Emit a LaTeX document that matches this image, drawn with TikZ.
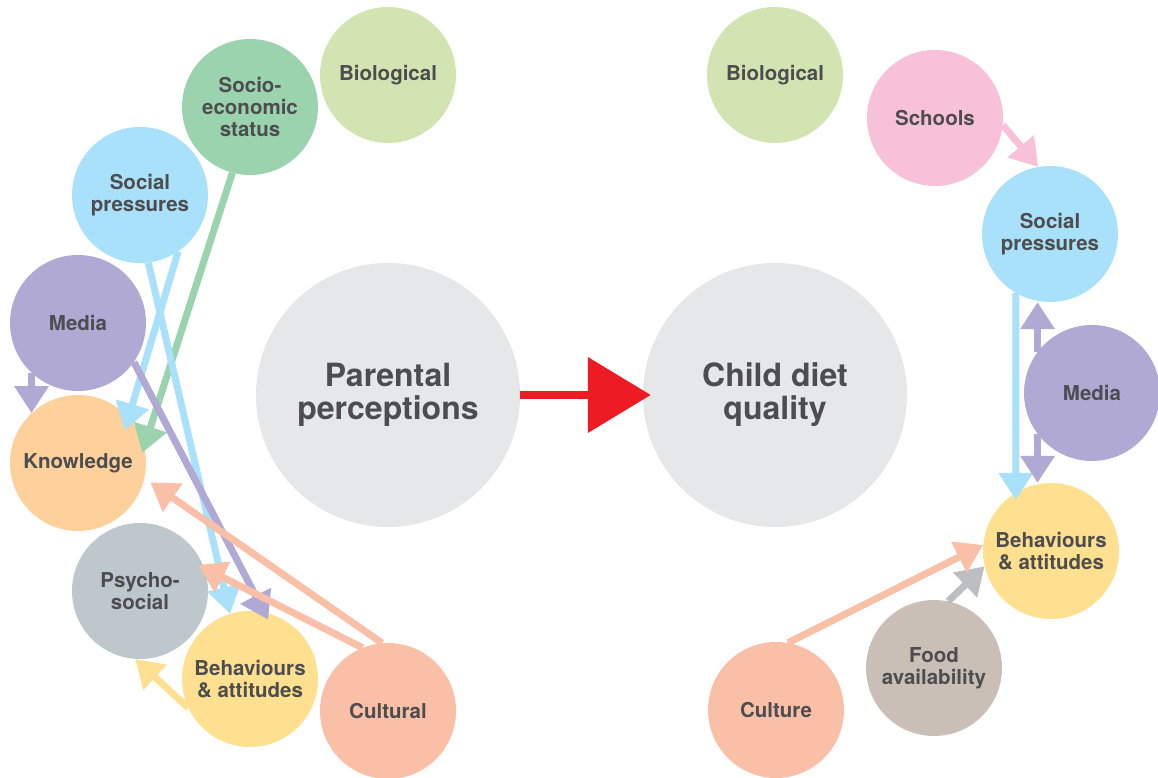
\documentclass[tikz,border=0pt]{standalone}
\usepackage{fontspec}
\setmainfont{TeX Gyre Heros}
\usepackage[HTML]{xcolor}
\usetikzlibrary{arrows.meta, calc}

\definecolor{txtC}{HTML}{4D4D4F}
\definecolor{bioC}{HTML}{D1E4B1}
\definecolor{sesC}{HTML}{9AD3AE}
\definecolor{socC}{HTML}{A9E0FA}
\definecolor{medC}{HTML}{AFA9D3}
\definecolor{knowC}{HTML}{FDD09C}
\definecolor{psyC}{HTML}{BEC7CC}
\definecolor{behC}{HTML}{FEE090}
\definecolor{culC}{HTML}{F9BFA7}
\definecolor{schC}{HTML}{F7C1D9}
\definecolor{foodC}{HTML}{C9BFB6}
\definecolor{hubC}{HTML}{E6E7E8}
\definecolor{redC}{HTML}{ED1C24}
\definecolor{greyA}{HTML}{BCBEC0}

\begin{document}
\begin{tikzpicture}[x=1pt,y=1pt,
  bubble/.style={circle,fill=#1,minimum size=136pt,inner sep=0pt,align=center,text=txtC,
    font=\fontsize{20.5}{22}\selectfont\bfseries},
  hub/.style={circle,fill=hubC,minimum size=264pt,inner sep=0pt,align=center,text=txtC,
    font=\fontsize{32}{33}\selectfont\bfseries},
  link/.style={draw=#1,line width=7pt,-{Triangle[length=27pt,width=33pt]}}]
\useasboundingbox (0,0) rectangle (1158,778);

% left: parental perceptions
\node[bubble=bioC] (lbio) at (388,703) {Biological};
\node[bubble=sesC] (lses) at (250,671) {Socio-\\economic\\status};
\node[bubble=socC] (lsoc) at (140,583) {Social\\pressures};
\node[bubble=medC] (lmed) at (78,455) {Media};
\node[bubble=knowC] (lknow) at (78,315) {Knowledge};
\node[bubble=psyC] (lpsy) at (140,187) {Psycho-\\social};
\node[bubble=behC] (lbeh) at (250,99) {Behaviours\\\& attitudes};
\node[bubble=culC] (lcul) at (388,67) {Cultural};
\node[hub] (parent) at (388,383) {Parental\\perceptions};

% right: child diet quality
\node[hub] (child) at (775,383) {Child diet\\quality};
\node[bubble=bioC] (rbio) at (775,703) {Biological};
\node[bubble=schC] (rsch) at (935,660) {Schools};
\node[bubble=socC] (rsoc) at (1050,544) {Social\\pressures};
\node[bubble=medC] (rmed) at (1092,385) {Media};
\node[bubble=behC] (rbeh) at (1051,227) {Behaviours\\\& attitudes};
\node[bubble=foodC] (rfood) at (934,110) {Food\\availability};
\node[bubble=culC] (rcul) at (776,68) {Culture};

\draw[link=medC] (lmed.227) -- (lknow.133);
\draw[link=socC] (lsoc.304) -- ($(lknow)+(35:57)$);
\draw[link=sesC] (lses.255) -- ($(lknow)+(9:65)$);
\draw[link=socC] (lsoc.277) -- (lbeh.107);
\draw[link=medC] (lmed.325) -- ($(lbeh)+(73:62)$);
\draw[link=culC] (lcul.95) -- ($(lknow)+(-15:75)$);
\draw[link=culC] (lcul.112) -- ($(lpsy)+(24:64)$);
\draw[link=behC] (lbeh.205) -- (lpsy.266);

\draw[draw=redC,line width=8pt,-{Triangle[length=63pt,width=74pt]}] (parent.east) -- ($(child.west)+(8,0)$);

\draw[link=schC] (rsch.354) -- (rsoc.100);
\draw[link=socC] (rsoc.240) -- ($(rbeh)+(124.6:62)$);
\draw[link=medC] (rmed.143) -- (rmed.143 |- rsoc.south);
\draw[link=medC] (rmed.217) -- (rmed.217 |- rbeh.north);
\draw[link=greyA] (rfood.78) -- (rbeh.193);
\draw[link=culC] (rcul.80) -- (rbeh.175);
\end{tikzpicture}
\end{document}
